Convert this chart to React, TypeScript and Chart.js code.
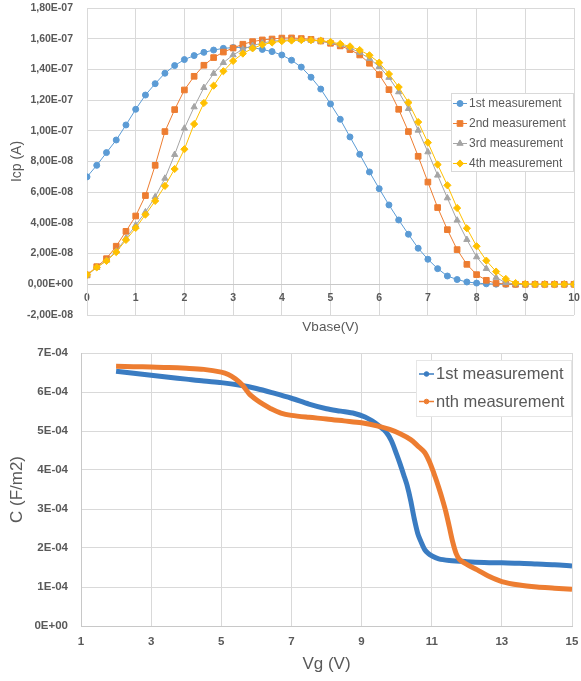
import React, { useEffect, useRef } from 'react';
import { Chart, registerables } from 'chart.js';

Chart.register(...registerables);

const FONT = "'Liberation Sans', Arial, sans-serif";
const TEXT = '#595959';
const GRID = '#D9D9D9';
const AXIS = '#C8C8C8';
const CLEAR = 'rgba(0,0,0,0)';

// ---------- Top chart data (Icp vs Vbase) ----------
const vbase = [
  0, 0.2, 0.4, 0.6, 0.8, 1.0, 1.2, 1.4, 1.6, 1.8,
  2.0, 2.2, 2.4, 2.6, 2.8, 3.0, 3.2, 3.4, 3.6, 3.8,
  4.0, 4.2, 4.4, 4.6, 4.8, 5.0, 5.2, 5.4, 5.6, 5.8,
  6.0, 6.2, 6.4, 6.6, 6.8, 7.0, 7.2, 7.4, 7.6, 7.8,
  8.0, 8.2, 8.4, 8.6, 8.8, 9.0, 9.2, 9.4, 9.6, 9.8, 10.0,
];
const icp1st = [
  7.00e-8, 7.75e-8, 8.58e-8, 9.40e-8, 10.38e-8, 11.40e-8, 12.33e-8, 13.07e-8, 13.75e-8, 14.25e-8,
  14.64e-8, 14.90e-8, 15.11e-8, 15.26e-8, 15.37e-8, 15.42e-8, 15.44e-8, 15.42e-8, 15.30e-8, 15.16e-8,
  14.94e-8, 14.60e-8, 14.15e-8, 13.49e-8, 12.72e-8, 11.75e-8, 10.75e-8, 9.60e-8, 8.47e-8, 7.32e-8,
  6.23e-8, 5.17e-8, 4.19e-8, 3.26e-8, 2.35e-8, 1.63e-8, 1.02e-8, 0.54e-8, 0.31e-8, 0.15e-8,
  0.08e-8, 0.03e-8, 0.01e-8, 0, 0, 0, 0, 0, 0, 0, 0,
];
const icp2nd = [
  0.61e-8, 1.15e-8, 1.67e-8, 2.48e-8, 3.45e-8, 4.45e-8, 5.78e-8, 7.75e-8, 9.95e-8, 11.38e-8,
  12.66e-8, 13.55e-8, 14.27e-8, 14.77e-8, 15.13e-8, 15.39e-8, 15.64e-8, 15.81e-8, 15.92e-8, 15.98e-8,
  16.04e-8, 16.05e-8, 16.01e-8, 15.96e-8, 15.85e-8, 15.70e-8, 15.53e-8, 15.29e-8, 14.94e-8, 14.40e-8,
  13.66e-8, 12.68e-8, 11.40e-8, 9.95e-8, 8.34e-8, 6.66e-8, 5.00e-8, 3.56e-8, 2.26e-8, 1.30e-8,
  0.63e-8, 0.26e-8, 0.07e-8, 0.02e-8, 0, 0, 0, 0, 0, 0, 0,
];
const icp3rd = [
  0.58e-8, 1.10e-8, 1.55e-8, 2.15e-8, 3.00e-8, 3.85e-8, 4.71e-8, 5.69e-8, 6.90e-8, 8.45e-8,
  10.16e-8, 11.55e-8, 12.81e-8, 13.73e-8, 14.44e-8, 14.94e-8, 15.31e-8, 15.55e-8, 15.72e-8, 15.83e-8,
  15.90e-8, 15.93e-8, 15.93e-8, 15.90e-8, 15.84e-8, 15.74e-8, 15.60e-8, 15.40e-8, 15.10e-8, 14.70e-8,
  14.18e-8, 13.47e-8, 12.53e-8, 11.44e-8, 10.03e-8, 8.62e-8, 7.10e-8, 5.62e-8, 4.17e-8, 2.91e-8,
  1.78e-8, 1.02e-8, 0.44e-8, 0.10e-8, 0.02e-8, 0, 0, 0, 0, 0, 0,
];
const icp4th = [
  0.62e-8, 1.10e-8, 1.52e-8, 2.10e-8, 2.89e-8, 3.67e-8, 4.54e-8, 5.43e-8, 6.41e-8, 7.51e-8,
  8.80e-8, 10.44e-8, 11.81e-8, 12.94e-8, 13.88e-8, 14.55e-8, 15.03e-8, 15.37e-8, 15.61e-8, 15.75e-8,
  15.84e-8, 15.88e-8, 15.91e-8, 15.90e-8, 15.87e-8, 15.79e-8, 15.66e-8, 15.50e-8, 15.26e-8, 14.92e-8,
  14.44e-8, 13.70e-8, 12.85e-8, 11.84e-8, 10.57e-8, 9.23e-8, 7.80e-8, 6.45e-8, 4.97e-8, 3.65e-8,
  2.48e-8, 1.54e-8, 0.83e-8, 0.35e-8, 0.08e-8, 0.02e-8, 0, 0, 0, 0, 0,
];
const topNames = ['1st measurement', '2nd measurement', '3rd measurement', '4th measurement'];
const topSeries = [icp1st, icp2nd, icp3rd, icp4th];
const topColors = ['#5B9BD5', '#ED7D31', '#A5A5A5', '#FFC000'];
const topMarkers = ['circle', 'rect', 'triangle', 'rectRot'];
const topRadius = [3, 4, 3.6, 3.6];

// ---------- Bottom chart data (C vs Vg) ----------
const vg1st = [
  2.0, 2.5, 3.0, 3.5, 4.0, 4.5, 5.0, 5.5, 6.0, 6.5, 7.0, 7.5, 8.0, 8.4, 8.8, 9.1, 9.3, 9.5, 9.7, 9.85,
  10.0, 10.1, 10.2, 10.3, 10.4, 10.5, 10.6, 10.7, 10.8, 10.9, 11.0, 11.2, 11.5, 12.0, 12.5, 13.0, 13.5,
  14.0, 14.5, 15.0,
];
const c1st = [
  6.53e-4, 6.48e-4, 6.43e-4, 6.38e-4, 6.33e-4, 6.28e-4, 6.24e-4, 6.18e-4, 6.09e-4, 5.97e-4, 5.84e-4,
  5.69e-4, 5.57e-4, 5.51e-4, 5.45e-4, 5.36e-4, 5.26e-4, 5.13e-4, 4.97e-4, 4.75e-4,
  4.40e-4, 4.15e-4, 3.88e-4, 3.60e-4, 3.22e-4, 2.76e-4, 2.38e-4, 2.15e-4, 1.96e-4, 1.86e-4, 1.80e-4,
  1.72e-4, 1.68e-4, 1.65e-4, 1.63e-4, 1.62e-4, 1.61e-4, 1.59e-4, 1.57e-4, 1.54e-4,
];
const vgNth = [
  2.0, 2.5, 3.0, 3.5, 4.0, 4.5, 5.0, 5.2, 5.4, 5.6, 5.8, 6.0, 6.2, 6.4, 6.7, 7.0, 7.5, 8.0, 8.5, 9.0,
  9.5, 9.8, 10.1, 10.4, 10.6, 10.8, 10.95, 11.1, 11.2, 11.3, 11.4, 11.5, 11.6, 11.7, 11.8, 12.0, 12.3,
  12.6, 13.0, 13.5, 14.0, 14.5, 15.0,
];
const cNth = [
  6.66e-4, 6.65e-4, 6.64e-4, 6.63e-4, 6.61e-4, 6.58e-4, 6.51e-4, 6.45e-4, 6.34e-4, 6.18e-4, 5.95e-4,
  5.80e-4, 5.68e-4, 5.58e-4, 5.46e-4, 5.40e-4, 5.35e-4, 5.31e-4, 5.26e-4, 5.21e-4,
  5.12e-4, 5.04e-4, 4.93e-4, 4.78e-4, 4.62e-4, 4.45e-4, 4.18e-4, 3.82e-4, 3.55e-4, 3.26e-4, 2.94e-4,
  2.55e-4, 2.15e-4, 1.85e-4, 1.70e-4, 1.58e-4, 1.44e-4, 1.29e-4, 1.14e-4, 1.05e-4, 1.00e-4, 0.97e-4,
  0.94e-4,
];
const bottomNames = ['1st measurement', 'nth measurement'];
const bottomColors = ['#3A7CC2', '#ED7D31'];

// ---------- helpers ----------
function sciLabel(v: number, digits: number, comma: boolean) {
  if (Math.abs(v) < 1e-25) v = 0;
  const s = v.toExponential(digits);
  const [m, e] = s.split('e');
  const exp = parseInt(e, 10);
  const sign = exp < 0 ? '-' : '+';
  const ee = String(Math.abs(exp)).padStart(2, '0');
  return (comma ? m.replace('.', ',') : m) + 'E' + sign + ee;
}

function drawMarker(ctx: CanvasRenderingContext2D, style: string, x: number, y: number, r: number, color: string) {
  ctx.save();
  ctx.fillStyle = color;
  ctx.strokeStyle = color;
  ctx.lineWidth = 1;
  ctx.beginPath();
  if (style === 'circle') {
    ctx.arc(x, y, r, 0, Math.PI * 2);
  } else if (style === 'rect') {
    const s = r * Math.SQRT1_2;
    ctx.rect(x - s, y - s, 2 * s, 2 * s);
  } else if (style === 'triangle') {
    for (let k = 0; k < 3; k++) {
      const a = (k * 2 * Math.PI) / 3;
      const px = x + Math.sin(a) * r;
      const py = y - Math.cos(a) * r;
      if (k === 0) ctx.moveTo(px, py);
      else ctx.lineTo(px, py);
    }
    ctx.closePath();
  } else {
    ctx.moveTo(x, y - r);
    ctx.lineTo(x + r, y);
    ctx.lineTo(x, y + r);
    ctx.lineTo(x - r, y);
    ctx.closePath();
  }
  ctx.fill();
  ctx.stroke();
  ctx.restore();
}

const topExtras = {
  id: 'topExtras',
  afterDraw(chart: any) {
    const ctx: CanvasRenderingContext2D = chart.ctx;
    const ca = chart.chartArea;
    ctx.save();
    // x-axis title
    ctx.fillStyle = TEXT;
    ctx.font = `13.5px ${FONT}`;
    ctx.textAlign = 'center';
    ctx.textBaseline = 'middle';
    ctx.fillText('Vbase(V)', (ca.left + ca.right) / 2, ca.bottom + 12);
    // legend
    const bw = 123;
    const bx = ca.right - bw;
    const by = ca.top + 85;
    const bh = 79;
    ctx.fillStyle = '#FFFFFF';
    ctx.fillRect(bx, by, bw, bh);
    ctx.strokeStyle = GRID;
    ctx.lineWidth = 1;
    ctx.strokeRect(bx + 0.5, by + 0.5, bw - 1, bh - 1);
    ctx.font = `12px ${FONT}`;
    ctx.textAlign = 'left';
    topNames.forEach((name, i) => {
      const y = by + 10.5 + i * 20;
      ctx.strokeStyle = topColors[i];
      ctx.lineWidth = 1;
      ctx.beginPath();
      ctx.moveTo(bx + 2, y);
      ctx.lineTo(bx + 16, y);
      ctx.stroke();
      drawMarker(ctx, topMarkers[i], bx + 9, y, topRadius[i], topColors[i]);
      ctx.fillStyle = TEXT;
      ctx.fillText(name, bx + 18, y + 0.5);
    });
    ctx.restore();
  },
};

const bottomExtras = {
  id: 'bottomExtras',
  afterDraw(chart: any) {
    const ctx: CanvasRenderingContext2D = chart.ctx;
    const ca = chart.chartArea;
    ctx.save();
    const bw = 156;
    const bx = ca.right - bw;
    const by = ca.top + 7;
    const bh = 57;
    ctx.fillStyle = '#FFFFFF';
    ctx.fillRect(bx, by, bw, bh);
    ctx.strokeStyle = '#E6E6E6';
    ctx.lineWidth = 1;
    ctx.strokeRect(bx + 0.5, by + 0.5, bw - 1, bh - 1);
    ctx.font = `16.5px ${FONT}`;
    ctx.textAlign = 'left';
    ctx.textBaseline = 'middle';
    bottomNames.forEach((name, i) => {
      const y = by + 14 + i * 27.5;
      ctx.strokeStyle = bottomColors[i];
      ctx.lineWidth = 1.5;
      ctx.beginPath();
      ctx.moveTo(bx + 3, y);
      ctx.lineTo(bx + 18, y);
      ctx.stroke();
      drawMarker(ctx, 'circle', bx + 10.5, y, 2.3, bottomColors[i]);
      ctx.fillStyle = TEXT;
      ctx.fillText(name, bx + 20, y + 0.5);
    });
    ctx.restore();
  },
};

function topConfig(): any {
  return {
    type: 'line',
    data: {
      datasets: topSeries.map((s, i) => ({
        label: topNames[i],
        data: vbase.map((x, k) => ({ x, y: s[k] })),
        borderColor: topColors[i],
        backgroundColor: topColors[i],
        pointBackgroundColor: topColors[i],
        pointBorderColor: topColors[i],
        pointStyle: topMarkers[i],
        pointRadius: topRadius[i],
        pointBorderWidth: 1,
        borderWidth: 1,
        tension: 0,
        order: 3 - i,
      })),
    },
    options: {
      animation: false,
      responsive: false,
      events: [],
      layout: { padding: { left: 0, right: 7, top: 8, bottom: 22 } },
      plugins: { legend: { display: false }, tooltip: { enabled: false } },
      scales: {
        x: {
          type: 'linear',
          position: { y: 0 },
          min: 0,
          max: 10,
          ticks: {
            stepSize: 1,
            color: TEXT,
            font: { family: FONT, size: 10.5, weight: 'bold' },
            padding: 0,
            maxRotation: 0,
          },
          grid: { color: GRID, drawTicks: true, tickLength: 8, tickColor: CLEAR },
          border: { color: AXIS },
        },
        y: {
          type: 'linear',
          min: -2e-8,
          max: 1.8e-7,
          ticks: {
            stepSize: 2e-8,
            color: TEXT,
            font: { family: FONT, size: 10.5, weight: 'bold' },
            padding: 0,
            callback: (v: number) => sciLabel(v, 2, true),
          },
          grid: { color: GRID, drawTicks: true, tickLength: 14, tickColor: CLEAR },
          border: { color: GRID },
          title: {
            display: true,
            text: 'Icp (A)',
            color: TEXT,
            font: { family: FONT, size: 14 },
            padding: { top: 9, bottom: 0 },
          },
          afterFit: (s: any) => {
            s.width = 87;
          },
        },
      },
    },
    plugins: [topExtras],
  };
}

function bottomConfig(): any {
  const series = [
    { x: vg1st, y: c1st },
    { x: vgNth, y: cNth },
  ];
  return {
    type: 'line',
    data: {
      datasets: series.map((s, i) => ({
        label: bottomNames[i],
        data: s.x.map((x, k) => ({ x, y: s.y[k] })),
        borderColor: bottomColors[i],
        backgroundColor: bottomColors[i],
        pointRadius: 0,
        borderWidth: 5,
        tension: 0.3,
        order: 1 - i,
      })),
    },
    options: {
      animation: false,
      responsive: false,
      events: [],
      layout: { padding: { left: 0, right: 9, top: 16, bottom: 0 } },
      plugins: { legend: { display: false }, tooltip: { enabled: false } },
      scales: {
        x: {
          type: 'linear',
          min: 1,
          max: 15,
          ticks: {
            stepSize: 2,
            color: TEXT,
            font: { family: FONT, size: 11.5, weight: 'bold' },
            padding: 0,
            maxRotation: 0,
          },
          grid: { color: GRID, drawTicks: true, tickLength: 9, tickColor: CLEAR },
          border: { color: AXIS },
          title: {
            display: true,
            text: 'Vg (V)',
            color: TEXT,
            font: { family: FONT, size: 17 },
            padding: { top: 0, bottom: 6 },
          },
          afterFit: (s: any) => {
            s.height = 55;
          },
        },
        y: {
          type: 'linear',
          min: 0,
          max: 7e-4,
          ticks: {
            stepSize: 1e-4,
            color: TEXT,
            font: { family: FONT, size: 11.5, weight: 'bold' },
            padding: 0,
            callback: (v: number) => sciLabel(v, 0, false),
          },
          grid: { color: GRID, drawTicks: true, tickLength: 13, tickColor: CLEAR },
          border: { color: AXIS },
          title: {
            display: true,
            text: 'C (F/m2)',
            color: TEXT,
            font: { family: FONT, size: 17 },
            padding: { top: 7, bottom: 0 },
          },
          afterFit: (s: any) => {
            s.width = 81;
          },
        },
      },
    },
    plugins: [bottomExtras],
  };
}

export default function App() {
  const topRef = useRef<HTMLCanvasElement>(null);
  const botRef = useRef<HTMLCanvasElement>(null);
  useEffect(() => {
    const a = new Chart(topRef.current as HTMLCanvasElement, topConfig());
    const b = new Chart(botRef.current as HTMLCanvasElement, bottomConfig());
    return () => {
      a.destroy();
      b.destroy();
    };
  }, []);
  return (
    <div style={{ position: 'absolute', left: 0, top: 0, width: 581, height: 681, background: '#FFFFFF' }}>
      <canvas ref={topRef} width={581} height={337} style={{ display: 'block', width: 581, height: 337 }} />
      <canvas ref={botRef} width={581} height={344} style={{ display: 'block', width: 581, height: 344 }} />
    </div>
  );
}
